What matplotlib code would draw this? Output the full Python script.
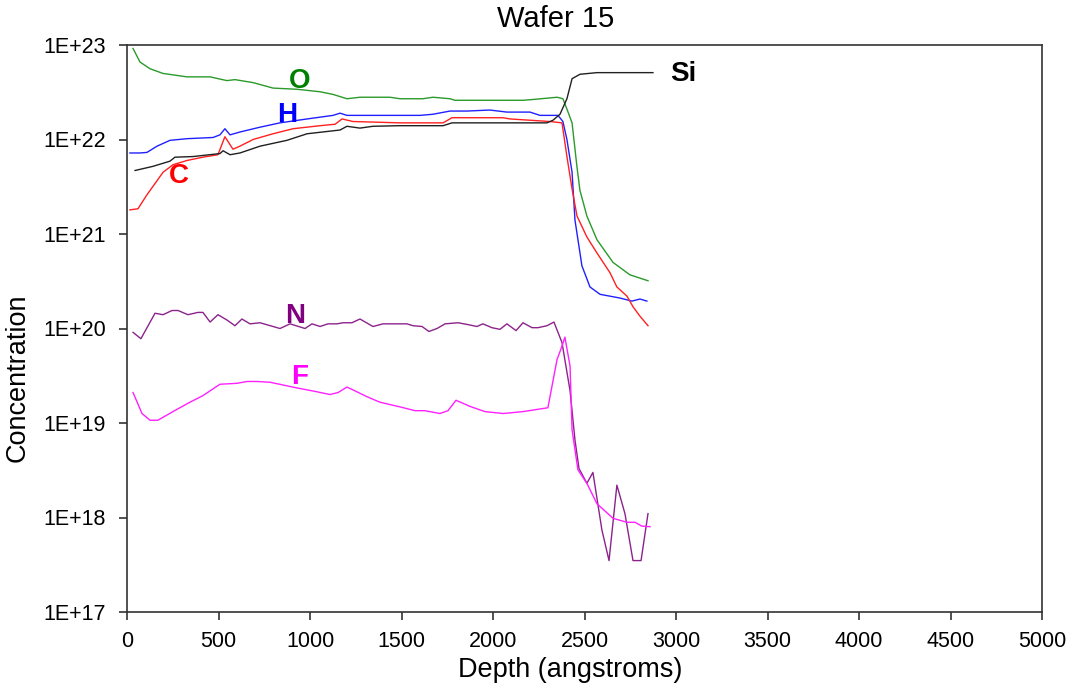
"""SIMS depth profile for wafer 15: element concentrations vs sputter depth."""

import matplotlib
matplotlib.use('Agg')
import matplotlib.pyplot as plt

plt.rcParams['font.family'] = ['Liberation Sans', 'DejaVu Sans']

# ---- profile data (depth in angstroms, concentration in atoms/cm^3) ----
o_depth = [33, 71, 126, 197, 328, 454, 546, 590, 689, 798, 929, 1055, 1126, 1202,
           1273, 1437, 1492, 1617, 1672, 1765, 1792, 2164, 2218, 2350, 2382, 2404,
           2432, 2459, 2475, 2513, 2568, 2656, 2748, 2847]
o_conc = [9.2e22, 6.6e22, 5.6e22, 5.0e22, 4.6e22, 4.6e22, 4.2e22, 4.3e22, 4.0e22,
          3.5e22, 3.4e22, 3.2e22, 3.0e22, 2.7e22, 2.8e22, 2.8e22, 2.7e22, 2.7e22,
          2.8e22, 2.7e22, 2.6e22, 2.6e22, 2.65e22, 2.8e22, 2.7e22, 2.1e22, 1.5e22,
          5.1e21, 2.9e21, 1.55e21, 8.7e20, 5.0e20, 3.7e20, 3.2e20]

h_depth = [16, 71, 109, 164, 235, 328, 470, 508, 535, 563, 617, 727, 836, 984, 1126,
           1164, 1202, 1437, 1601, 1672, 1765, 1858, 1983, 2076, 2202, 2257, 2355,
           2382, 2404, 2432, 2448, 2486, 2530, 2585, 2694, 2759, 2803, 2841]
h_conc = [7.2e21, 7.2e21, 7.3e21, 8.5e21, 9.8e21, 1.02e22, 1.05e22, 1.12e22, 1.3e22,
          1.12e22, 1.2e22, 1.35e22, 1.5e22, 1.65e22, 1.8e22, 1.9e22, 1.8e22, 1.8e22,
          1.8e22, 1.85e22, 2.0e22, 2.0e22, 2.05e22, 1.95e22, 1.95e22, 1.8e22, 1.8e22,
          1.55e22, 1.0e22, 4.5e21, 1.4e21, 4.6e20, 2.75e20, 2.3e20, 2.1e20, 1.95e20,
          2.05e20, 1.95e20]

c_depth = [16, 60, 109, 197, 251, 328, 415, 497, 535, 579, 617, 689, 798, 907, 1055,
           1137, 1175, 1235, 1492, 1727, 1776, 2055, 2093, 2311, 2377, 2404, 2432,
           2459, 2513, 2568, 2639, 2677, 2732, 2765, 2803, 2847]
c_conc = [1.8e21, 1.85e21, 2.6e21, 4.5e21, 5.4e21, 6.0e21, 6.5e21, 6.9e21, 1.07e22,
          7.9e21, 8.5e21, 1.0e22, 1.15e22, 1.3e22, 1.4e22, 1.45e22, 1.65e22, 1.55e22,
          1.5e22, 1.5e22, 1.7e22, 1.7e22, 1.65e22, 1.55e22, 1.5e22, 6.6e21, 3.0e21,
          1.55e21, 9.3e20, 6.3e20, 3.9e20, 2.75e20, 2.2e20, 1.7e20, 1.35e20, 1.07e20]

si_depth = [44, 142, 235, 262, 361, 508, 525, 563, 617, 727, 874, 984, 1164, 1202,
            1273, 1344, 1492, 1727, 1776, 2131, 2295, 2328, 2366, 2404, 2432, 2475,
            2568, 2874]
si_conc = [4.7e21, 5.2e21, 5.9e21, 6.5e21, 6.6e21, 7.1e21, 7.6e21, 6.9e21, 7.2e21,
           8.5e21, 9.8e21, 1.15e22, 1.26e22, 1.38e22, 1.32e22, 1.38e22, 1.4e22,
           1.4e22, 1.5e22, 1.5e22, 1.5e22, 1.6e22, 1.85e22, 2.7e22, 4.4e22, 4.9e22,
           5.1e22, 5.1e22]

n_depth = [33, 76, 153, 197, 246, 279, 333, 388, 415, 454, 497, 546, 590, 628, 672,
           727, 836, 891, 973, 1011, 1055, 1098, 1147, 1180, 1229, 1273, 1344, 1399,
           1530, 1563, 1612, 1650, 1694, 1738, 1809, 1863, 1912, 1945, 1994, 2038,
           2076, 2126, 2164, 2213, 2246, 2295, 2333, 2377, 2421, 2448, 2470, 2513,
           2546, 2595, 2634, 2677, 2721, 2765, 2809, 2847]
n_conc = [9.1e19, 7.8e19, 1.45e20, 1.4e20, 1.55e20, 1.55e20, 1.4e20, 1.48e20, 1.48e20,
          1.17e20, 1.4e20, 1.23e20, 1.07e20, 1.26e20, 1.12e20, 1.15e20, 1.0e20,
          1.12e20, 1.0e20, 1.12e20, 1.05e20, 1.12e20, 1.12e20, 1.15e20, 1.15e20,
          1.26e20, 1.05e20, 1.12e20, 1.12e20, 1.07e20, 1.05e20, 9.3e19, 1.0e20,
          1.12e20, 1.15e20, 1.1e20, 1.05e20, 1.12e20, 1.02e20, 9.8e19, 1.12e20,
          9.5e19, 1.15e20, 1.02e20, 1.02e20, 1.07e20, 1.17e20, 7.1e19, 2.2e19,
          6.6e18, 3.3e18, 2.3e18, 3.0e18, 7.4e17, 3.5e17, 2.2e18, 1.1e18, 3.5e17,
          3.5e17, 1.1e18]

f_depth = [33, 82, 126, 169, 251, 344, 415, 508, 601, 656, 710, 781, 929, 1038, 1109,
           1153, 1202, 1235, 1311, 1382, 1492, 1574, 1628, 1710, 1754, 1798, 1874,
           1956, 2055, 2164, 2300, 2350, 2377, 2393, 2421, 2432, 2464, 2513, 2568,
           2656, 2732, 2776, 2814, 2858]
f_conc = [2.1e19, 1.26e19, 1.07e19, 1.07e19, 1.32e19, 1.66e19, 1.95e19, 2.57e19,
          2.63e19, 2.75e19, 2.75e19, 2.7e19, 2.35e19, 2.14e19, 2.0e19, 2.1e19, 2.4e19,
          2.24e19, 1.9e19, 1.66e19, 1.48e19, 1.35e19, 1.35e19, 1.26e19, 1.35e19,
          1.74e19, 1.5e19, 1.32e19, 1.26e19, 1.32e19, 1.45e19, 4.7e19, 6.5e19, 8.1e19,
          4.0e19, 8.5e18, 3.2e18, 2.3e18, 1.4e18, 9.8e17, 8.9e17, 8.9e17, 8.1e17,
          8.0e17]

y_ticks = [1e17, 1e18, 1e19, 1e20, 1e21, 1e22, 1e23]
y_tick_labels = ['1E+17', '1E+18', '1E+19', '1E+20', '1E+21', '1E+22', '1E+23']
x_ticks = list(range(0, 5001, 500))

# label text, anchor (depth, conc), colour
labels = [
    ('O', 945, 4.2e22, '#008000'),
    ('H', 875, 1.8e22, '#0000ff'),
    ('C', 282, 4.1e21, '#ff0000'),
    ('Si', 3038, 4.9e22, '#000000'),
    ('N', 918, 1.35e20, '#800080'),
    ('F', 945, 3.1e19, '#ff00ff'),
]

fig = plt.figure(figsize=(10.73, 6.89), dpi=100)
ax = fig.add_axes([127 / 1073, 1 - 612 / 689, (1042 - 127) / 1073, (612 - 45) / 689])

lw = 1.0
ax.plot(o_depth, o_conc, color='#2a9a2a', lw=lw)
ax.plot(h_depth, h_conc, color='#2020ff', lw=lw)
ax.plot(c_depth, c_conc, color='#ff2020', lw=lw)
ax.plot(si_depth, si_conc, color='#202020', lw=lw)
ax.plot(n_depth, n_conc, color='#8b238b', lw=lw)
ax.plot(f_depth, f_conc, color='#ff20ff', lw=lw)

for text, x, y, col in labels:
    ax.text(x, y, text, color=col, fontsize=20, fontweight='bold',
            ha='center', va='center')

ax.set_yscale('log')
ax.set_xlim(0, 5000)
ax.set_ylim(1e17, 1e23)
ax.set_xticks(x_ticks)
ax.set_yticks(y_ticks)
ax.set_yticklabels(y_tick_labels)
ax.minorticks_off()
ax.tick_params(axis='both', direction='out', length=6, width=1.2,
               color='#333333', labelsize=15.5)
ax.tick_params(axis='x', pad=8)
ax.tick_params(axis='y', pad=9)
for sp in ax.spines.values():
    sp.set_color('#333333')
    sp.set_linewidth(1.2)

fig.text(556 / 1073, 1 - 19 / 689, 'Wafer 15', fontsize=21, ha='center', va='center')
fig.text(570 / 1073, 1 - 670 / 689, 'Depth (angstroms)', fontsize=19.5,
         ha='center', va='center')
fig.text(18 / 1073, 1 - 378 / 689, 'Concentration', fontsize=19.5, rotation=90,
         ha='center', va='center')

fig.savefig('out.png', dpi=100)
